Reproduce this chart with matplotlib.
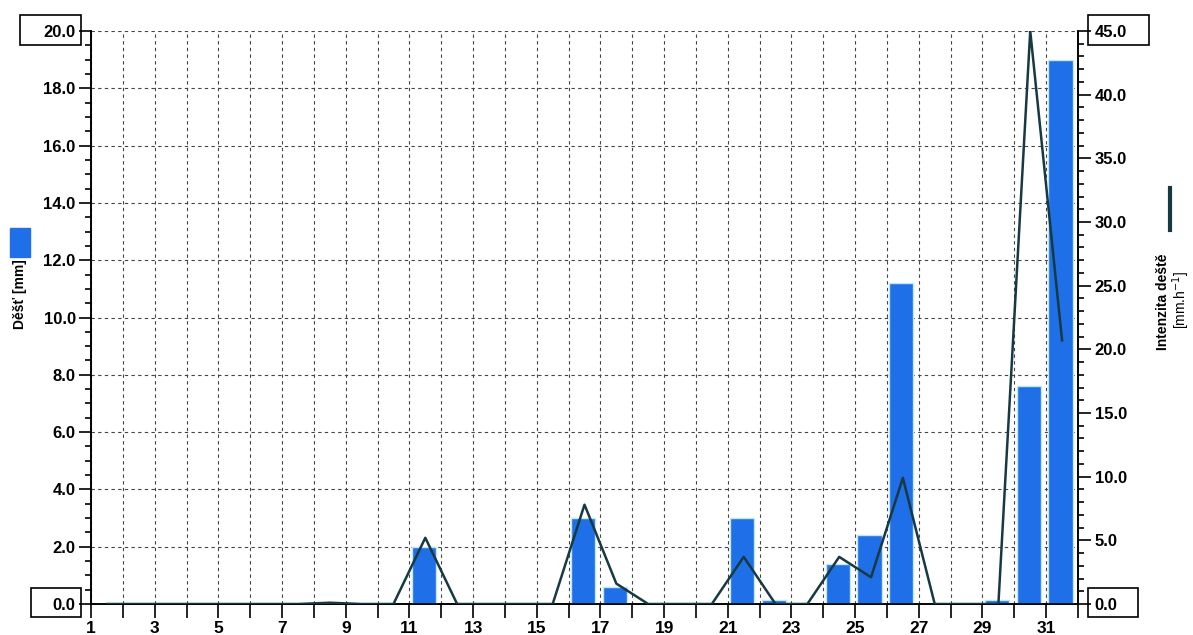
import numpy as np
import matplotlib
matplotlib.use('Agg')
import matplotlib.pyplot as plt
from matplotlib.patches import Rectangle
from matplotlib.lines import Line2D
from matplotlib.ticker import MultipleLocator

plt.rcParams['font.family'] = ['Liberation Sans', 'DejaVu Sans']

# daily values
days = list(range(1, 32))
rain_mm = [0, 0, 0, 0, 0, 0, 0, 0, 0, 0,
           2.0, 0, 0, 0, 0, 3.0, 0.6, 0, 0, 0,
           3.0, 0.15, 0, 1.4, 2.4, 11.2, 0, 0, 0.15, 7.6,
           19.0]
intensity = [0, 0, 0, 0, 0, 0, 0, 0.1, 0, 0,
             5.2, 0, 0, 0, 0, 7.8, 1.6, 0, 0, 0,
             3.7, 0, 0, 3.7, 2.1, 9.9, 0, 0, 0, 45.0,
             20.7]
left_ticks = np.arange(0, 20.01, 2.0)
right_ticks = np.arange(0, 45.01, 5.0)

W, H = 1193, 635
bar_col = '#1f6fe8'
line_col = '#173a42'

fig = plt.figure(figsize=(W / 100, H / 100), dpi=100)
ax = fig.add_axes([91 / W, 1 - 604 / H, (1078 - 91) / W, (604 - 31) / H])
ax2 = ax.twinx()

# bars (rain)
ax.bar(np.array(days) + 0.07, rain_mm, width=0.76, align='edge',
       color=bar_col, edgecolor='#bfe9f7', linewidth=1.0, zorder=3)
ax.set_xlim(1, 32)
ax.set_ylim(0, 20)
ax.set_xticks(range(1, 33))
ax.set_xticklabels([str(d) if (d % 2 == 1 and d <= 31) else '' for d in range(1, 33)],
                   fontsize=12.5, fontweight='bold')
ax.set_yticks(left_ticks)
ax.set_yticklabels([f'{v:.1f}' for v in left_ticks], fontsize=12, fontweight='bold')
ax.yaxis.set_minor_locator(MultipleLocator(0.5))
ax.grid(True, which='major', linestyle=(0, (3, 3)), color='#444444', linewidth=0.8, zorder=0)
ax.set_axisbelow(True)
ax.tick_params(axis='x', length=10, width=1.2, pad=2)
ax.tick_params(axis='y', which='major', length=9, width=1.2, pad=2)
ax.tick_params(axis='y', which='minor', length=4, width=1.2)

# line (intensity)
ax2.plot(np.array(days) + 0.5, intensity, color=line_col, linewidth=1.8, zorder=4)
ax2.set_ylim(0, 45)
ax2.set_yticks(right_ticks)
ax2.set_yticklabels([f'{v:.1f}' for v in right_ticks], fontsize=12, fontweight='bold')
ax2.yaxis.set_minor_locator(MultipleLocator(1.0))
ax2.tick_params(axis='y', which='major', length=9, width=1.2, pad=3)
ax2.tick_params(axis='y', which='minor', length=4, width=1.2)

for a in (ax, ax2):
    a.spines['top'].set_visible(False)
    for s in ('left', 'right', 'bottom'):
        a.spines[s].set_linewidth(1.2)
        a.spines[s].set_color('black')

# boxes around end labels
def box(x0, y0, x1, y1):
    fig.add_artist(Rectangle((x0 / W, 1 - y1 / H), (x1 - x0) / W, (y1 - y0) / H,
                             transform=fig.transFigure, fill=False,
                             edgecolor='black', linewidth=1.2))

box(20, 15, 81, 45)
box(31, 588, 81, 617)
box(1088, 15, 1149, 45)
box(1088, 588, 1138, 617)

# left legend/label
fig.add_artist(Rectangle((10 / W, 1 - 257 / H), 20 / W, 29 / H,
                         transform=fig.transFigure, color=bar_col))
fig.text(20 / W, 1 - 294 / H, 'Děšť [mm]', rotation=90, ha='center', va='center',
         fontsize=10, fontweight='bold')

# right legend/label
fig.add_artist(Line2D([1170 / W, 1170 / W], [1 - 188 / H, 1 - 230 / H],
                      transform=fig.transFigure, color=line_col, linewidth=3))
fig.text(1163 / W, 1 - 302 / H, 'Intenzita deště', rotation=90, ha='center', va='center',
         fontsize=10, fontweight='bold')
fig.text(1181 / W, 1 - 300 / H, r'[mm.h$^{-1}$]', rotation=90, ha='center', va='center',
         fontsize=10)

fig.savefig('out.png', dpi=100)
